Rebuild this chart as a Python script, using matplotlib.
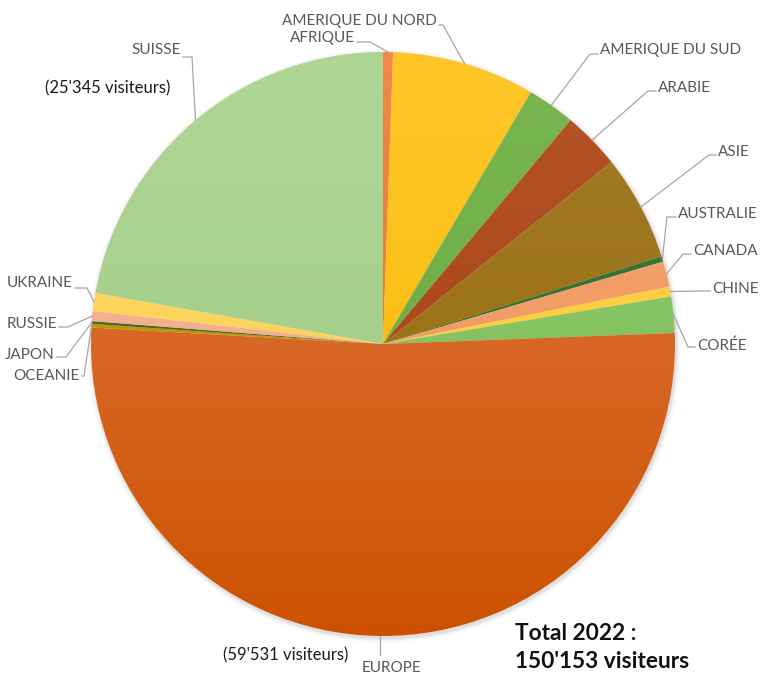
"""Visiteurs 2022 par provenance - camembert avec étiquettes et lignes de rappel."""

import matplotlib.pyplot as plt
import numpy as np
from matplotlib.colors import to_rgb
from matplotlib.patches import Circle

W, H = 763, 675

# parts du camembert (en %), dans le sens horaire depuis midi
regions = [
    "AFRIQUE", "AMERIQUE DU NORD", "AMERIQUE DU SUD", "ARABIE", "ASIE",
    "AUSTRALIE", "CANADA", "CHINE", "CORÉE", "EUROPE",
    "OCEANIE", "JAPON", "RUSSIE", "UKRAINE", "SUISSE",
]
shares = [0.55, 7.9, 2.65, 3.2, 5.85, 0.3, 1.4, 0.55, 2.0, 51.5,
          0.2, 0.15, 0.55, 1.0, 22.2]
colors_top = ["#f0894a", "#ffc629", "#7ab752", "#b65428", "#a47c2c",
              "#3f7a3a", "#f5a673", "#ffd54d", "#8ec96c", "#e47c4a",
              "#c9a000", "#4d7030", "#f7b79a", "#ffd966", "#b0d696"]
colors_bottom = ["#e06b20", "#f5b800", "#64a33a", "#a03c10", "#936a00",
                 "#2f6a2f", "#ef9155", "#fcc830", "#7dbd57", "#cc5200",
                 "#b88c00", "#3e6226", "#f2a682", "#fbcf4f", "#9fc982"]

europe_note = "(59'531 visiteurs)"
suisse_note = "(25'345 visiteurs)"
total_lines = ["Total 2022 :", "150'153 visiteurs"]

# position des étiquettes en pixels (x, y, alignement, coude de la ligne)
label_layout = {
    "AFRIQUE": (355, 38, "right", (370, 42)),
    "AMERIQUE DU NORD": (437, 21, "right", (443, 25)),
    "AMERIQUE DU SUD": (600, 50, "left", (590, 54)),
    "ARABIE": (658, 88, "left", (648, 91)),
    "ASIE": (718, 152, "left", (709, 155)),
    "AUSTRALIE": (678, 214, "left", (667, 217)),
    "CANADA": (693, 251, "left", (683, 254)),
    "CHINE": (712, 289, "left", (700, 291)),
    "CORÉE": (697, 346, "left", (688, 347)),
    "EUROPE": (391, 668, "center", None),
    "OCEANIE": (80, 376, "right", (84, 376)),
    "JAPON": (55, 355, "right", (66, 357)),
    "RUSSIE": (57, 324, "right", (68, 327)),
    "UKRAINE": (73, 283, "right", (87, 288)),
    "SUISSE": (181, 50, "right", (192, 57)),
}


def px(x, y):
    """Pixel coords (origine en haut à gauche) -> coordonnées des axes."""
    return x, H - y


plt.rcParams["font.family"] = ["Lato", "DejaVu Sans"]

fig = plt.figure(figsize=(W / 100, H / 100), dpi=100)
ax = fig.add_axes([0, 0, 1, 1])

cx, cy = px(383, 344)
r = 292

# ombre douce autour du disque
for dr, a in [(5, 0.03), (3.5, 0.05), (2, 0.08), (1, 0.10)]:
    ax.add_patch(Circle((cx + 1, cy - 2), r + dr, color="#808080",
                        alpha=a, lw=0, zorder=1))

wedges, _ = ax.pie(shares, startangle=90, counterclock=False,
                   center=(cx, cy), radius=r, frame=True,
                   wedgeprops=dict(linewidth=0, zorder=2))

# dégradé vertical dans chaque part
grad = np.linspace(0, 1, 256)[:, None, None]
for w, ct, cb in zip(wedges, colors_top, colors_bottom):
    top = np.array(to_rgb(ct))
    bot = np.array(to_rgb(cb))
    img = top + (bot - top) * grad
    im = ax.imshow(img, extent=(cx - r, cx + r, cy - r, cy + r),
                   origin="upper", aspect="auto", zorder=2,
                   interpolation="bilinear")
    im.set_clip_path(w)
    w.set_facecolor("none")

# étiquettes et lignes de rappel
for w, name in zip(wedges, regions):
    tx, ty, ha, knee = label_layout[name]
    theta = np.deg2rad((w.theta1 + w.theta2) / 2)
    ax_, ay_ = cx + r * np.cos(theta), cy + r * np.sin(theta)
    if knee is None:
        xs = [ax_, ax_]
        ys = [ay_, H - (ty - 13)]
    else:
        end_x = tx - 2 if ha == "left" else tx + 2
        kx, ky = px(*knee)
        xs = [ax_, kx, end_x]
        ys = [ay_, ky, ky]
    ax.plot(xs, ys, color="#a6a6a6", lw=0.9, zorder=3)
    ax.text(*px(tx, ty), name, ha=ha, va="center", fontsize=11,
            color="#595959", zorder=4)

ax.text(*px(348, 655), europe_note, ha="right", va="center",
        fontsize=12, color="#1a1a1a")
ax.text(*px(170, 88), suisse_note, ha="right", va="center",
        fontsize=12, color="#1a1a1a")
ax.text(*px(515, 634), total_lines[0], ha="left", va="center",
        fontsize=16.3, fontweight="bold", color="#111111")
ax.text(*px(515, 661), total_lines[1], ha="left", va="center",
        fontsize=16.3, fontweight="bold", color="#111111")

ax.set_xlim(0, W)
ax.set_ylim(0, H)
ax.set_aspect("auto")
ax.axis("off")

fig.savefig("out.png", dpi=100, facecolor="white")
plt.close(fig)
